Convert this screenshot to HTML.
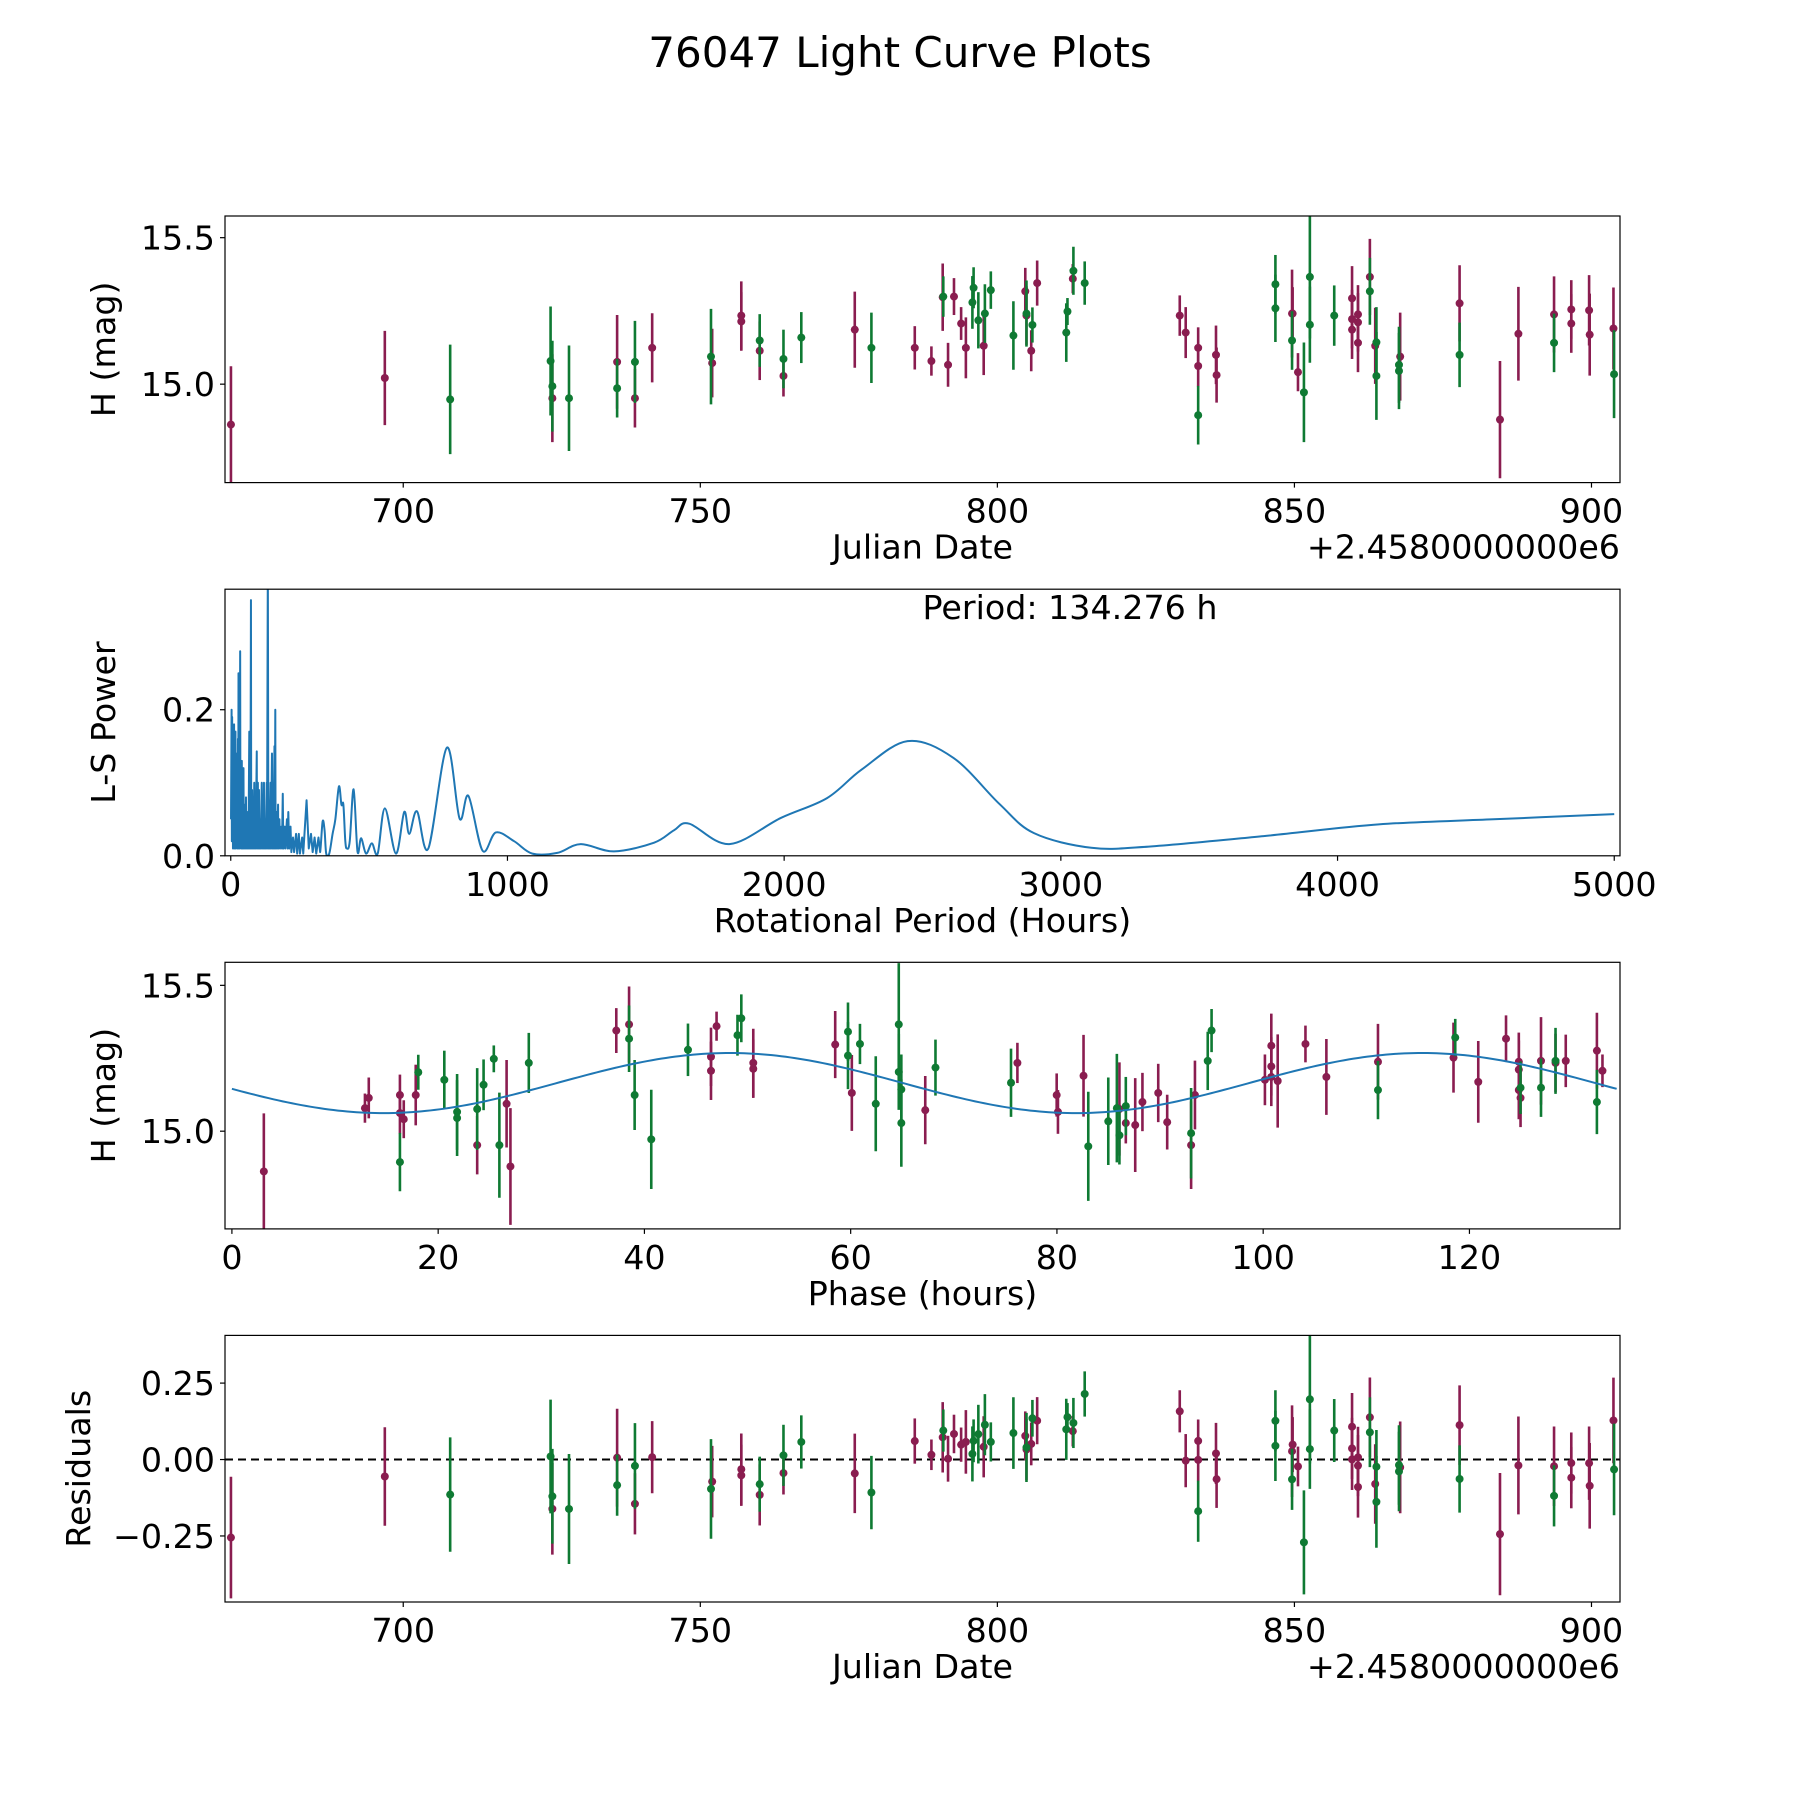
<!DOCTYPE html>
<html><head><meta charset="utf-8"><style>
html,body{margin:0;padding:0;background:#fff;}
svg{display:block;font-family:"DejaVu Sans","Liberation Sans",sans-serif;}
</style></head><body>
<svg id="fig" width="1800" height="1800" viewBox="0 0 1800 1800" xmlns="http://www.w3.org/2000/svg">
<rect width="1800" height="1800" fill="#fff"/>
<text x="900" y="67" font-size="42" text-anchor="middle">76047 Light Curve Plots</text>
</svg>
<script>
const obsDates = [671.0,696.9,707.9,724.8,725.1,725.1,727.9,736.0,736.0,739.0,739.0,741.9,751.8,752.0,756.9,756.9,760.0,760.0,764.0,764.0,767.0,776.0,778.8,786.1,788.9,790.8,790.9,792.7,793.9,791.7,794.7,796.0,795.8,796.8,797.7,797.9,798.9,802.7,804.7,804.9,804.9,805.9,805.7,806.7,811.8,811.6,812.8,812.7,814.7,830.7,831.7,833.8,833.8,833.8,836.8,836.9,846.8,846.8,849.6,849.7,849.6,850.6,851.6,852.6,852.6,856.7,859.7,859.7,859.7,860.7,860.7,860.7,862.7,862.7,863.6,863.8,863.8,867.8,867.6,867.6,877.8,877.8,884.6,887.7,893.7,893.7,896.6,896.6,899.6,899.7,903.7,903.8];
const obsMags = [14.862,15.021,14.948,15.079,14.993,14.952,14.952,15.076,14.986,15.076,14.952,15.124,15.094,15.072,15.234,15.214,15.149,15.114,15.086,15.028,15.159,15.186,15.124,15.124,15.079,15.297,15.299,15.299,15.207,15.066,15.124,15.329,15.279,15.218,15.131,15.241,15.321,15.166,15.317,15.241,15.234,15.202,15.114,15.345,15.248,15.176,15.387,15.36,15.345,15.234,15.176,15.124,15.062,14.894,15.1,15.031,15.341,15.259,15.241,15.241,15.149,15.041,14.972,15.366,15.203,15.234,15.293,15.222,15.186,15.238,15.211,15.141,15.366,15.317,15.131,15.143,15.028,15.094,15.066,15.045,15.276,15.1,14.879,15.172,15.238,15.141,15.255,15.207,15.252,15.169,15.19,15.034];
const obsErrs = [0.199,0.161,0.187,0.186,0.155,0.15,0.18,0.16,0.1,0.14,0.1,0.118,0.163,0.117,0.117,0.1,0.09,0.1,0.1,0.07,0.087,0.13,0.12,0.074,0.05,0.115,0.069,0.063,0.056,0.075,0.104,0.07,0.09,0.096,0.1,0.1,0.064,0.117,0.08,0.113,0.1,0.06,0.07,0.077,0.046,0.1,0.082,0.05,0.074,0.069,0.087,0.07,0.07,0.1,0.1,0.094,0.1,0.115,0.15,0.09,0.1,0.065,0.17,0.21,0.13,0.103,0.11,0.1,0.1,0.1,0.1,0.1,0.13,0.114,0.13,0.12,0.15,0.15,0.13,0.13,0.13,0.11,0.2,0.16,0.13,0.1,0.1,0.1,0.12,0.14,0.14,0.15];
const obsBand = "mmgggmgmggmmgmmmgmgmgmgmmmgmmmmgggmgggmgmgmmgggmgmmmmgmmggmmgmggggmmmmmmmgmggmggmgmmmgmmmmmgmg";
// ---- Periodogram ----
const lsPeriods = [1,3,4,5,6,7,8,9,10,12,13,14,15,17,18,20,21,23,24,26,27,28,29,31,32,34,35,37,38,40,41,43,44,46,47,49,50,52,53,55,56,59,60,63,64,67,68,70,71,73,74,77,78,81,82,85,86,89,90,94,95,98,99,102,103,107,108,112,113,116,117,120,121,125,126,130,131,134,136,139,140,144,145,149,150,153,154,158,159,161,162,166,167,171,172,176,178,183,185,188,190,195,197,203,205,208,211,216,219,225,229,236,240,246,250,258,262,274,282,290,296,303,309,317,323,332,339,345,356,368,378,391,400,407,414,420,430,444,458,471,489,510,531,557,597,627,645,673,714,781,827,859,910,958,1024,1090,1180,1265,1385,1530,1602,1657,1802,1989,2155,2280,2446,2612,2778,2903,3110,3318,3733,4149,4564,5000];
const lsPower = [0.05,0.2,0.02,0.19,0.03,0.16,0.01,0.15,0.02,0.18,0.01,0.13,0.02,0.17,0.01,0.14,0.02,0.12,0.01,0.16,0.01,0.25,0.02,0.12,0.01,0.28,0.02,0.11,0.01,0.13,0.01,0.08,0.01,0.12,0.01,0.07,0.01,0.05,0.01,0.08,0.01,0.06,0.01,0.05,0.01,0.17,0.01,0.07,0.01,0.35,0.01,0.09,0.01,0.05,0.01,0.1,0.01,0.05,0.01,0.143,0.01,0.1,0.01,0.09,0.01,0.05,0.01,0.1,0.01,0.05,0.01,0.1,0.01,0.05,0.01,0.1,0.01,0.4,0.01,0.06,0.01,0.1,0.01,0.14,0.01,0.07,0.01,0.15,0.01,0.2,0.01,0.06,0.01,0.07,0.01,0.05,0.01,0.04,0.01,0.085,0.01,0.04,0.01,0.05,0.01,0.06,0.01,0.04,0.005,0.025,0.005,0.03,0.003,0.03,0.003,0.025,0.003,0.076,0.01,0.03,0.005,0.025,0.003,0.025,0.005,0.047,0.035,0.003,0.003,0.03,0.05,0.095,0.07,0.07,0.02,0.01,0.02,0.091,0.006,0.024,0.003,0.017,0.003,0.065,0.003,0.06,0.03,0.061,0.01,0.148,0.051,0.082,0.007,0.032,0.02,0.003,0.004,0.016,0.006,0.018,0.035,0.044,0.016,0.052,0.079,0.118,0.157,0.134,0.071,0.031,0.011,0.0126,0.027,0.043,0.05,0.057];
// ---- Fit ----
const bestPeriod = 134.276;
const epochJD = 670.871;
const fitMean = 15.165;
const fitAmp = 0.103;
const fitPhaseCenter = 31.5;
// ---- Ticks ----
const jdTicks = [700,750,800,850,900];
const magTicks = [15.0,15.5];
const magTickLabels = ["15.0","15.5"];
const perTicks = [0,1000,2000,3000,4000,5000];
const powTicks = [0.0,0.2];
const powTickLabels = ["0.0","0.2"];
const phaseTicks = [0,20,40,60,80,100,120];
const resTicks = [-0.25,0,0.25];
const resTickLabels = ["\u22120.25","0.00","0.25"];

const NS="http://www.w3.org/2000/svg";
const svg=document.getElementById('fig');
const COL={m:'#8a1d50',g:'#0f7a33'};
const L=225,R=1620,H=266.6;
const tops=[216,589.2,962.3,1335.4];
function mk(tag,attrs,parent){const e=document.createElementNS(NS,tag);for(const k in attrs)e.setAttribute(k,attrs[k]);(parent||svg).appendChild(e);return e;}
function lin(d0,d1,r0,r1){return v=>r0+(v-d0)*(r1-r0)/(d1-d0);}
function model(ph){return fitMean+fitAmp*Math.sin(2*Math.PI*(ph-fitPhaseCenter)/(bestPeriod/2));}
function phaseOf(jd){let p=((jd-epochJD)*24)%bestPeriod;if(p<0)p+=bestPeriod;return p;}

function makeAxes(i,name,xr,yr){
  const top=tops[i],bot=top+H;
  const g=mk('g',{});
  
  
  const cp=mk('clipPath',{id:'clip'+i},g);
  mk('rect',{x:L,y:top,width:R-L,height:H},cp);
  const plot=mk('g',{'clip-path':'url(#clip'+i+')'},g);
  
  
  return {g,plot,top,bot,x:lin(xr[0],xr[1],L,R),y:lin(yr[0],yr[1],bot,top)};
}
function frame(ax,xt,xl,yt,yl,xlabel,ylabel,ylx){
  const g=ax.g;
  const f=mk('rect',{x:L,y:ax.top,width:R-L,height:H,fill:'none',stroke:'#000','stroke-width':1.2},g);
  
  
  xt.forEach((v,k)=>{const px=ax.x(v);
    mk('line',{x1:px,x2:px,y1:ax.bot,y2:ax.bot+5,stroke:'#000','stroke-width':1.2},g);
    const t=mk('text',{x:px,y:ax.bot+40,'font-size':33.3,'text-anchor':'middle'},g);
    t.textContent=xl[k];
    
    });
  yt.forEach((v,k)=>{const py=ax.y(v);
    mk('line',{x1:L-5,x2:L,y1:py,y2:py,stroke:'#000','stroke-width':1.2},g);
    const t=mk('text',{x:L-10,y:py+12,'font-size':33.3,'text-anchor':'end'},g);
    t.textContent=yl[k];
    
    });
  const xlab=mk('text',{x:(L+R)/2,y:ax.bot+76,'font-size':33.3,'text-anchor':'middle'},g);
  xlab.textContent=xlabel;
  
  
  const cy=(ax.top+ax.bot)/2;
  const ylab=mk('text',{x:ylx,y:cy,'font-size':33.3,'text-anchor':'middle',transform:'rotate(-90 '+ylx+' '+cy+')'},g);
  ylab.textContent=ylabel;
  
  
}
function offsetText(ax){
  const t=mk('text',{x:R,y:ax.bot+76,'font-size':33.3,'text-anchor':'end'},ax.g);
  t.textContent='+2.4580000000e6';
  
  
}
function points(ax,xs,ys,es){
  ['m','g'].forEach(b=>{
    for(let k=0;k<xs.length;k++){ if(obsBand[k]!==b) continue;
      const px=ax.x(xs[k]);
      const eb=mk('line',{x1:px,x2:px,y1:ax.y(ys[k]-es[k]),y2:ax.y(ys[k]+es[k]),stroke:COL[b],'stroke-width':2.6},ax.plot);
      
      
      const c=mk('circle',{cx:px,cy:ax.y(ys[k]),r:4,fill:COL[b]},ax.plot);
      
      
    }
  });
}
const jdTickLabels=jdTicks.map(String);

// Panel 1: light curve
const a1=makeAxes(0,'light-curve-panel',[670.0,904.8],[14.664,15.574]);
points(a1,obsDates,obsMags,obsErrs);
frame(a1,jdTicks,jdTickLabels,magTicks,magTickLabels,'Julian Date','H (mag)',115);
offsetText(a1);

// Panel 2: periodogram
const a2=makeAxes(1,'periodogram-panel',[-20.8,5020.8],[0,0.365]);
const P=lsPeriods.map((p,k)=>[a2.x(p),a2.y(lsPower[k])]);
let d='M'+P[0][0].toFixed(2)+','+P[0][1].toFixed(2);
for(let k=1;k<P.length;k++){
  if(lsPeriods[k]<330){d+='L'+P[k][0].toFixed(2)+','+P[k][1].toFixed(2);continue;}
  const p0=P[k-2]||P[k-1],p1=P[k-1],p2=P[k],p3=P[k+1]||P[k];
  const c1x=p1[0]+(p2[0]-p0[0])/6,c1y=p1[1]+(p2[1]-p0[1])/6;
  const c2x=p2[0]-(p3[0]-p1[0])/6,c2y=p2[1]-(p3[1]-p1[1])/6;
  d+='C'+c1x.toFixed(2)+','+c1y.toFixed(2)+' '+c2x.toFixed(2)+','+c2y.toFixed(2)+' '+p2[0].toFixed(2)+','+p2[1].toFixed(2);
}
const ls=mk('path',{d:d,fill:'none',stroke:'#1f77b4','stroke-width':2,'stroke-linejoin':'round'},a2.plot);


frame(a2,perTicks,perTicks.map(String),powTicks,powTickLabels,'Rotational Period (Hours)','L-S Power',115);
const pt=mk('text',{x:(L+R)/2,y:a2.top+30,'font-size':33.3,'text-anchor':'start'},a2.g);
pt.textContent='Period: '+bestPeriod.toFixed(3)+' h';



// Panel 3: phased
const a3=makeAxes(2,'phased-curve-panel',[-0.67,134.6],[14.665,15.579]);
const phases=obsDates.map(phaseOf);
let md='';
for(let k=0;k<=300;k++){const ph=bestPeriod*k/300;md+=(k?'L':'M')+a3.x(ph).toFixed(2)+','+a3.y(model(ph)).toFixed(2);}
points(a3,phases,obsMags,obsErrs);
const ml=mk('path',{d:md,fill:'none',stroke:'#1f77b4','stroke-width':2},a3.plot);


frame(a3,phaseTicks,phaseTicks.map(String),magTicks,magTickLabels,'Phase (hours)','H (mag)',115);

// Panel 4: residuals
const a4=makeAxes(3,'residuals-panel',[670.0,904.8],[-0.466,0.406]);
const resid=obsMags.map((m,k)=>m-model(phases[k]));
const zl=mk('line',{x1:L,x2:R,y1:a4.y(0),y2:a4.y(0),stroke:'#000','stroke-width':2,'stroke-dasharray':'8,5'},a4.plot);


points(a4,obsDates,resid,obsErrs);
frame(a4,jdTicks,jdTickLabels,resTicks,resTickLabels,'Julian Date','Residuals',90);
offsetText(a4);
</script>
</body></html>
